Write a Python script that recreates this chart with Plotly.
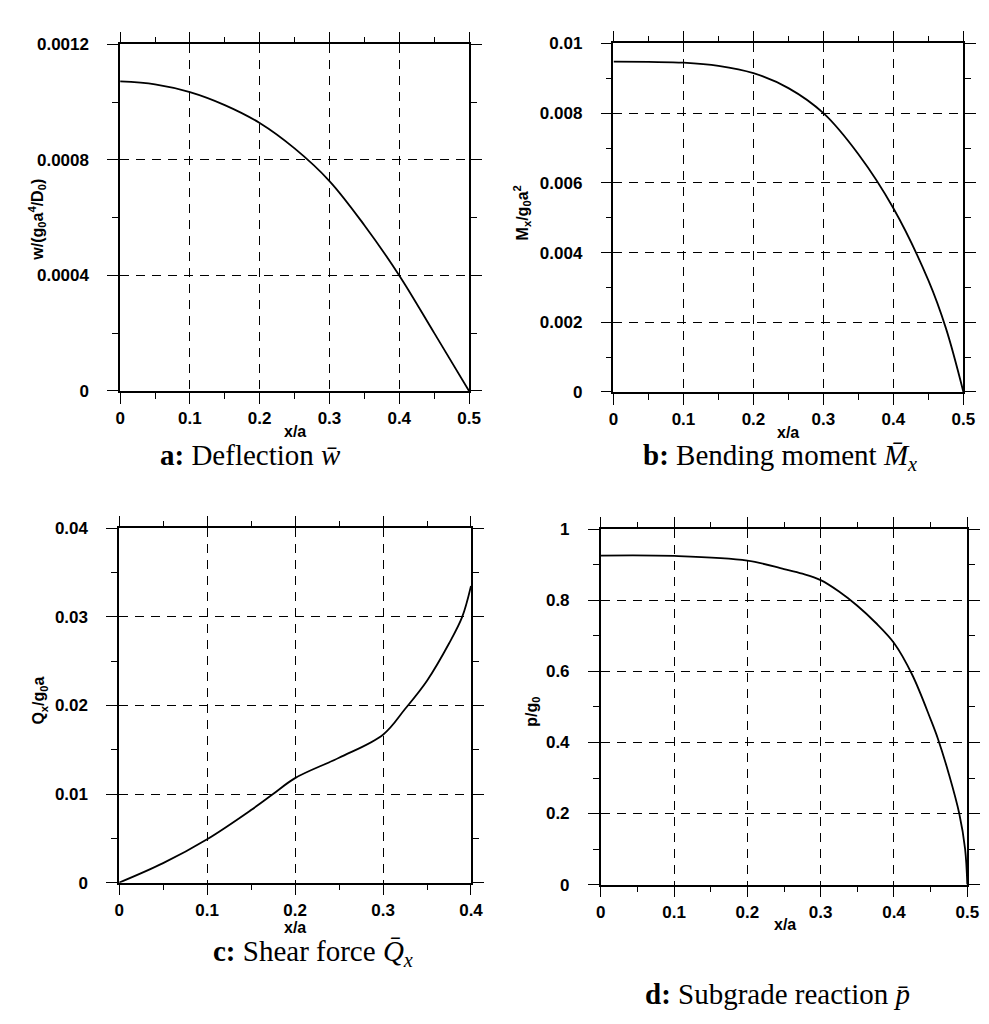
import plotly.graph_objects as go

# ---------------- data ----------------
# a: Deflection  w/(g0 a^4/D0)
xa = [0, 0.05, 0.1, 0.15, 0.2, 0.25, 0.3, 0.35, 0.4, 0.45, 0.5]
ya = [0.001072, 0.001062, 0.001035, 0.000990, 0.000928, 0.000840, 0.000727, 0.000574, 0.000400, 0.000201, 0.0]

# b: Bending moment  Mx/(g0 a^2)
xb = [0, 0.05, 0.1, 0.15, 0.2, 0.25, 0.3, 0.35, 0.4, 0.45, 0.475, 0.5]
yb = [0.00948, 0.00947, 0.00945, 0.00936, 0.00915, 0.00872, 0.0080, 0.00682, 0.00527, 0.0032, 0.00183, 0.0]

# c: Shear force  Qx/(g0 a)
xc = [0, 0.05, 0.1, 0.15, 0.175, 0.2, 0.25, 0.3, 0.325, 0.35, 0.375, 0.39, 0.4]
yc = [0, 0.0022, 0.0049, 0.0082, 0.0100, 0.0118, 0.0141, 0.0167, 0.0196, 0.0228, 0.0270, 0.0300, 0.0335]

# d: Subgrade reaction  p/g0
xd = [0, 0.1, 0.2, 0.25, 0.275, 0.3, 0.325, 0.35, 0.375, 0.4, 0.425, 0.45, 0.46, 0.475, 0.489, 0.497, 0.5]
yd = [0.926, 0.925, 0.912, 0.888, 0.875, 0.857, 0.825, 0.785, 0.737, 0.68, 0.59, 0.465, 0.41, 0.31, 0.20, 0.10, 0.0]

x_ticks_05 = [0, 0.1, 0.2, 0.3, 0.4, 0.5]
x_text_05 = ["0", "0.1", "0.2", "0.3", "0.4", "0.5"]
x_ticks_04 = [0, 0.1, 0.2, 0.3, 0.4]
x_text_04 = ["0", "0.1", "0.2", "0.3", "0.4"]

ya_ticks = [0, 0.0004, 0.0008, 0.0012]
ya_text = ["0", "0.0004", "0.0008", "0.0012"]
yb_ticks = [0, 0.002, 0.004, 0.006, 0.008, 0.01]
yb_text = ["0", "0.002", "0.004", "0.006", "0.008", "0.01"]
yc_ticks = [0, 0.01, 0.02, 0.03, 0.04]
yc_text = ["0", "0.01", "0.02", "0.03", "0.04"]
yd_ticks = [0, 0.2, 0.4, 0.6, 0.8, 1]
yd_text = ["0", "0.2", "0.4", "0.6", "0.8", "1"]

W, H = 989, 1024

def px_x(a, b):
    return [a / W, b / W]

def px_y(top, bottom):
    return [1 - bottom / H, 1 - top / H]

fig = go.Figure()
def curve(x, y, xa_, ya_, sm=1.0):
    fig.add_trace(go.Scatter(x=x, y=y, mode="lines",
                             line=dict(color="black", width=1.8, shape="spline", smoothing=sm),
                             xaxis=xa_, yaxis=ya_, showlegend=False, hoverinfo="skip"))

curve(xa, ya, "x", "y")
curve(xb, yb, "x2", "y2")
curve(xc, yc, "x3", "y3")
curve(xd, yd, "x4", "y4", 1.0)

tickfont = dict(family="Liberation Sans, Arial, sans-serif", size=17, color="black", weight="bold")

def axis(dom, rng, tv, tt, minor_dtick, anchor, is_x):
    d = dict(
        domain=dom, range=rng, anchor=anchor,
        tickmode="array", tickvals=tv, ticktext=tt,
        showline=True, linecolor="black", linewidth=1.5, mirror="allticks",
        ticks="outside", ticklen=11, tickwidth=1.2, tickcolor="black",
        showgrid=True, gridcolor="black", gridwidth=1, griddash="9px,7px",
        zeroline=False, tickfont=tickfont,
        minor=dict(tickmode="linear", dtick=minor_dtick, ticks="outside", ticklen=6,
                   tickwidth=1, tickcolor="black", showgrid=False),
    )
    if not is_x:
        d["ticklabelstandoff"] = 15
    return d

layout = dict(
    width=W, height=H, margin=dict(l=0, r=0, t=0, b=0),
    paper_bgcolor="white", plot_bgcolor="white", showlegend=False,
    xaxis=axis(px_x(109, 464), [0, 0.5], x_ticks_05, x_text_05, 0.05, "y", True),
    yaxis=axis(px_y(28, 381), [0, 0.0012], ya_ticks, ya_text, 0.0002, "x", False),
    xaxis2=axis(px_x(611, 967), [0, 0.5], x_ticks_05, x_text_05, 0.05, "y2", True),
    yaxis2=axis(px_y(27, 382), [0, 0.01], yb_ticks, yb_text, 0.001, "x2", False),
    xaxis3=axis(px_x(108, 466), [0, 0.4], x_ticks_04, x_text_04, 0.05, "y3", True),
    yaxis3=axis(px_y(521, 882), [0, 0.04], yc_ticks, yc_text, 0.005, "x3", False),
    xaxis4=axis(px_x(598, 971), [0, 0.5], x_ticks_05, x_text_05, 0.05, "y4", True),
    yaxis4=axis(px_y(522, 884), [0, 1], yd_ticks, yd_text, 0.1, "x4", False),
)
fig.update_layout(**layout)

ann = []
tfont = dict(family="Liberation Sans, Arial, sans-serif", size=16, color="black")
def a(x, y, text, font, angle=0):
    ann.append(dict(x=x / W, y=1 - y / H, xref="paper", yref="paper", text=text, showarrow=False,
                    font=font, textangle=angle, xanchor="center", yanchor="middle"))

# x-axis titles
a(287, 422, "<b>x/a</b>", tfont)
a(789, 423, "<b>x/a</b>", tfont)
a(287, 928, "<b>x/a</b>", tfont)
a(785, 925, "<b>x/a</b>", tfont)
# y-axis titles
a(25, 207, "<b>w/(g<sub>0</sub>a<sup>4</sup>/D<sub>0</sub>)</b>", tfont, -90)
a(518, 200, "<b>M<sub>x</sub>/g<sub>0</sub>a<sup>2</sup></b>", tfont, -90)
a(27, 697, "<b>Q<sub>x</sub>/g<sub>0</sub>a</b>", tfont, -90)
a(529, 708, "<b>p/g<sub>0</sub></b>", tfont, -90)
# captions
cfont = dict(family="Liberation Serif, Times New Roman, serif", size=29, color="black")
a(242, 446, "<b>a:</b> Deflection <i>w\u0304</i>", cfont)
a(780, 448, "<b>b:</b> Bending moment <i>M\u0304<sub>x</sub></i>", cfont)
a(305, 954, "<b>c:</b> Shear force <i>Q\u0304<sub>x</sub></i>", cfont)
a(778, 995, "<b>d:</b> Subgrade reaction <i>p\u0304</i>", cfont)

fig.update_layout(annotations=ann)
fig.write_html("out.html")
